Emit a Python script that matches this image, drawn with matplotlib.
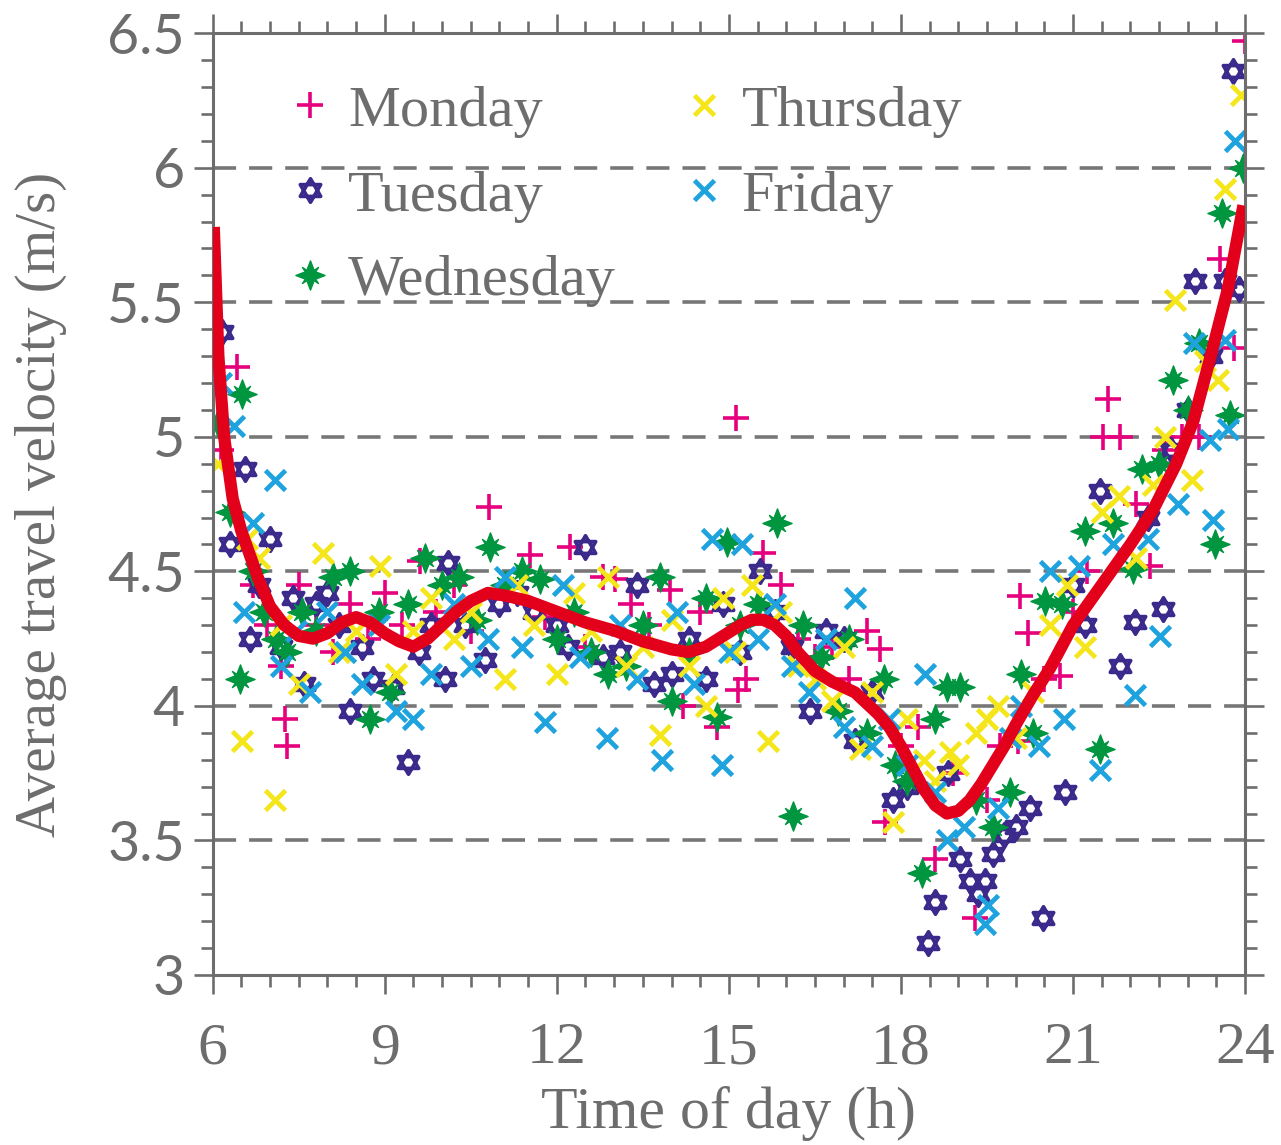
import matplotlib
matplotlib.use("Agg")
import matplotlib.pyplot as plt
from matplotlib.path import Path
from matplotlib.ticker import MultipleLocator

# Monday
mon_x = [6.15, 6.42, 6.7, 6.95, 7.2, 7.26, 7.29, 7.5, 7.8, 8.1, 8.4, 8.7, 9.0, 9.3, 9.61, 9.9, 10.2, 10.5, 10.81,
         11.1, 11.53, 11.8, 12.23, 12.5, 12.8, 13.01, 13.3, 13.6, 13.97, 14.2, 14.5, 14.8, 15.12, 15.16, 15.3, 15.6,
         15.9, 16.2, 16.5, 16.8, 17.1, 17.4, 17.63, 17.72, 18.0, 18.3, 18.6, 18.9, 19.29, 19.5, 19.73, 20.04, 20.08,
         20.22, 20.5, 20.77, 21.0, 21.25, 21.52, 21.61, 21.82, 22.1, 22.34, 22.6, 22.9, 23.2, 23.56, 23.8, 23.98, 24.0]
mon_y = [4.95, 5.26, 4.45, 4.3, 4.15, 3.95, 3.85, 4.45, 4.3, 4.2, 4.38, 4.25, 4.42, 4.3, 4.54, 4.35, 4.45, 4.28, 4.74,
         4.4, 4.56, 4.33, 4.59, 4.22, 4.48, 4.47, 4.38, 4.3, 4.43, 4.0, 4.35, 3.92, 5.07, 4.06, 4.1, 4.57,
         4.45, 4.25, 4.18, 4.22, 4.1, 4.28, 4.21, 3.57, 3.85, 3.92, 3.43, 3.75, 3.21, 3.65, 3.85, 3.87, 4.41,
         4.27, 4.1, 4.11, 4.35, 4.5, 5.0, 5.14, 5.0, 4.75, 4.52, 4.95, 5.0, 5.0, 5.66, 5.33, 6.0, 6.47]

# Tuesday
tue_x = [6.16, 6.3, 6.56, 6.65, 6.8, 7.0, 7.2, 7.4, 7.6, 7.8, 8.0, 8.2, 8.39, 8.6, 8.8, 9.14, 9.4, 9.6, 9.8, 10.05,
         10.1, 10.4, 10.75, 11.0, 11.3, 11.6, 12.0, 12.2, 12.49, 12.8, 13.1, 13.4, 13.7, 14.0, 14.3, 14.6, 14.9, 15.2,
         15.54, 15.8, 16.1, 16.41, 16.7, 17.0, 17.2, 17.5, 17.86, 18.1, 18.47, 18.6, 18.82, 19.03, 19.2, 19.35, 19.47,
         19.6, 19.8, 20.0, 20.25, 20.48, 20.86, 21.0, 21.2, 21.47, 21.82, 22.08, 22.3, 22.57, 22.7, 23.0, 23.13, 23.4,
         23.65, 23.79, 23.9]
tue_y = [5.39, 4.6, 4.88, 4.25, 4.45, 4.62, 4.22, 4.4, 4.08, 4.38, 4.42, 4.3, 3.98, 4.22, 4.1, 4.07, 3.79, 4.2, 4.3, 4.1,
         4.53, 4.3, 4.17, 4.38, 4.42, 4.35, 4.3, 4.22, 4.59, 4.18, 4.2, 4.45, 4.08, 4.12, 4.25, 4.1, 4.38, 4.2,
         4.5, 4.35, 4.22, 3.98, 4.28, 4.25, 3.87, 4.05, 3.65, 3.7, 3.12, 3.27, 3.75, 3.43, 3.35, 3.3, 3.35,
         3.45, 3.52, 3.55, 3.62, 3.21, 3.68, 4.45, 4.3, 4.8, 4.15, 4.31, 4.7, 4.36, 4.95, 5.1, 5.58, 5.3,
         5.58, 6.36, 5.55]

# Wednesday
wed_x = [6.1, 6.3, 6.47, 6.52, 6.7, 6.9, 7.1, 7.3, 7.55, 7.8, 8.1, 8.4, 8.74, 8.9, 9.1, 9.4, 9.7, 10.0, 10.3, 10.6,
         10.83, 11.1, 11.4, 11.7, 12.0, 12.3, 12.6, 12.9, 13.2, 13.5, 13.8, 14.0, 14.3, 14.6, 14.8, 14.97, 15.2, 15.5,
         15.84, 16.12, 16.3, 16.6, 16.9, 17.1, 17.4, 17.7, 17.9, 18.1, 18.37, 18.6, 18.8, 19.03, 19.3, 19.6, 19.9,
         20.1, 20.3, 20.51, 20.8, 21.2, 21.47, 21.7, 22.05, 22.2, 22.5, 22.74, 23.0, 23.2, 23.48, 23.6, 23.74, 23.97]
wed_y = [5.05, 4.72, 4.1, 5.16, 4.5, 4.35, 4.25, 4.2, 4.35, 4.28, 4.48, 4.5, 3.95, 4.35, 4.05, 4.38, 4.55, 4.45, 4.48, 4.32,
         4.59, 4.45, 4.5, 4.47, 4.25, 4.35, 4.2, 4.12, 4.15, 4.3, 4.48, 4.02, 4.2, 4.4, 3.96, 4.61, 4.3, 4.38,
         4.68, 3.59, 4.3, 4.18, 3.98, 4.25, 3.9, 4.1, 3.78, 3.72, 3.38, 3.95, 4.07, 4.07, 3.65, 3.55, 3.68,
         4.12, 3.9, 4.39, 4.38, 4.65, 3.84, 4.68, 4.51, 4.88, 4.9, 5.21, 5.1, 5.35, 4.6, 5.83, 5.08, 6.0]

# Thursday
thu_x = [6.1, 6.52, 6.6, 6.8, 7.08, 7.2, 7.5, 7.92, 8.2, 8.5, 8.91, 9.2, 9.5, 9.8, 10.2, 10.5, 11.09, 11.3, 11.6, 12.0,
         12.3, 12.6, 12.9, 13.2, 13.5, 13.8, 14.0, 14.3, 14.6, 14.9, 15.1, 15.4, 15.68, 15.9, 16.2, 16.5, 16.8, 17.0,
         17.29, 17.5, 17.86, 18.1, 18.4, 18.6, 18.86, 19.0, 19.3, 19.5, 19.7, 20.0, 20.3, 20.6, 20.9, 21.2, 21.5,
         21.8, 22.1, 22.4, 22.6, 22.78, 23.07, 23.3, 23.53, 23.65, 23.92]
thu_y = [4.9, 3.87, 4.62, 4.55, 3.65, 4.3, 4.08, 4.57, 4.2, 4.28, 4.52, 4.12, 4.28, 4.4, 4.25, 4.35, 4.1, 4.45, 4.3, 4.12,
         4.42, 4.28, 4.48, 4.15, 4.22, 3.89, 4.32, 4.15, 4.0, 4.4, 4.2, 4.45, 3.87, 4.35, 4.15, 4.1, 4.02, 4.22,
         3.84, 4.05, 3.57, 3.95, 3.8, 3.72, 3.83, 3.78, 3.9, 3.95, 4.0, 3.88, 4.05, 4.3, 4.45, 4.22, 4.72,
         4.78, 4.55, 4.82, 5.0, 5.51, 4.84, 5.28, 5.21, 5.92, 6.27]

# Friday
fri_x = [6.15, 6.38, 6.55, 6.7, 7.08, 7.2, 7.45, 7.7, 8.0, 8.3, 8.6, 8.9, 9.2, 9.5, 9.8, 10.2, 10.5, 10.8, 11.1, 11.4,
         11.79, 12.1, 12.4, 12.87, 13.1, 13.4, 13.83, 14.1, 14.4, 14.71, 14.88, 15.0, 15.23, 15.5, 15.8, 16.1, 16.4,
         16.7, 17.0, 17.2, 17.5, 17.8, 18.1, 18.42, 18.6, 18.8, 19.1, 19.47, 19.52, 19.7, 19.9, 20.1, 20.4, 20.6,
         20.85, 21.1, 21.47, 21.7, 22.08, 22.3, 22.52, 22.83, 23.1, 23.39, 23.44, 23.65, 23.7, 23.83]
fri_y = [5.2, 5.04, 4.35, 4.68, 4.84, 4.15, 4.28, 4.05, 4.35, 4.2, 4.08, 4.3, 3.98, 3.95, 4.12, 4.38, 4.15, 4.25, 4.48, 4.22,
         3.94, 4.45, 4.18, 3.88, 4.3, 4.1, 3.8, 4.35, 4.08, 4.62, 3.78, 4.2, 4.6, 4.25, 4.38, 4.15, 4.05,
         4.25, 3.92, 4.4, 3.85, 3.95, 3.78, 4.12, 3.68, 3.5, 3.55, 3.19, 3.26, 3.62, 3.88, 4.0, 3.85, 4.5,
         3.95, 4.52, 3.76, 4.6, 4.04, 4.62, 4.26, 4.75, 5.35, 4.99, 4.69, 5.36, 5.03, 6.1]

# fitted curve
fit_x = [6.02, 6.1, 6.2, 6.35, 6.5, 6.65, 6.8, 7.0, 7.25, 7.5, 7.75, 8.0, 8.25, 8.5, 8.75, 9.0, 9.25, 9.5, 9.75,
         10.0, 10.25, 10.5, 10.8, 11.1, 11.5, 12.0, 12.5, 13.0, 13.5, 14.0, 14.3, 14.6, 14.9, 15.2, 15.4, 15.6,
         15.8, 16.0, 16.2, 16.5, 16.8, 17.0, 17.2, 17.4, 17.6, 17.8, 18.0, 18.2, 18.4, 18.6, 18.8, 19.0, 19.2,
         19.4, 19.6, 19.8, 20.0, 20.3, 20.6, 21.0, 21.5, 22.0, 22.4, 22.8, 23.1, 23.4, 23.7, 23.97]
fit_y = [5.78, 5.3, 5.0, 4.77, 4.65, 4.56, 4.47, 4.37, 4.3, 4.26, 4.25, 4.27, 4.31, 4.33, 4.31, 4.27, 4.24, 4.22, 4.25,
         4.3, 4.35, 4.39, 4.42, 4.41, 4.39, 4.35, 4.31, 4.28, 4.24, 4.21, 4.2, 4.22, 4.26, 4.3, 4.32, 4.32,
         4.3, 4.26, 4.2, 4.13, 4.09, 4.07, 4.05, 4.01, 3.97, 3.92, 3.85, 3.77, 3.69, 3.63, 3.6, 3.61, 3.65,
         3.71, 3.78, 3.85, 3.93, 4.04, 4.14, 4.3, 4.45, 4.6, 4.73, 4.9, 5.06, 5.3, 5.55, 5.86]

x_ticks = [6, 9, 12, 15, 18, 21, 24]
x_tick_labels = ["6", "9", "12", "15", "18", "21", "24"]
y_ticks = [3, 3.5, 4, 4.5, 5, 5.5, 6, 6.5]
y_tick_labels = ["3", "3.5", "4", "4.5", "5", "5.5", "6", "6.5"]

grey = "#6d6d6d"
serif = ["Liberation Serif", "DejaVu Serif"]

# star of David marker (two triangles)
s3 = 0.866
hexagram = Path([(0, 1), (-s3, -0.5), (s3, -0.5), (0, 1),
                 (0, -1), (-s3, 0.5), (s3, 0.5), (0, -1)],
                [Path.MOVETO, Path.LINETO, Path.LINETO, Path.CLOSEPOLY,
                 Path.MOVETO, Path.LINETO, Path.LINETO, Path.CLOSEPOLY])

# green 8 pointed star, fat arms
star_verts = [(0, 1), (0.25, 0.35), (0.55, 0.55), (0.35, 0.25), (1, 0), (0.35, -0.25), (0.55, -0.55), (0.25, -0.35),
              (0, -1), (-0.25, -0.35), (-0.55, -0.55), (-0.35, -0.25), (-1, 0), (-0.35, 0.25), (-0.55, 0.55),
              (-0.25, 0.35), (0, 1)]
green_star = Path(star_verts, [Path.MOVETO] + [Path.LINETO] * 15 + [Path.CLOSEPOLY])

fig = plt.figure(figsize=(12.81, 11.45), dpi=100)
ax = fig.add_axes([0.166, 0.1485, 0.806, 0.8225])

ax.plot(mon_x, mon_y, ls="none", marker="+", ms=19, mew=2.6, color="#e6007e", label="Monday")
ax.plot(tue_x, tue_y, ls="none", marker=hexagram, ms=17, mew=2.6, mfc="none", color="#3b2a8c", label="Tuesday")
ax.plot(wed_x, wed_y, ls="none", marker=green_star, ms=21, mew=1.0, color="#00953f", label="Wednesday")
ax.plot(thu_x, thu_y, ls="none", marker="x", ms=14.5, mew=3.4, color="#f4e61a", label="Thursday")
ax.plot(fri_x, fri_y, ls="none", marker="x", ms=14.5, mew=3.4, color="#1fa3df", label="Friday")
ax.plot(fit_x, fit_y, color="#e3001b", lw=8.8, solid_capstyle="butt", zorder=5)

ax.set_xlim(6, 24)
ax.set_ylim(3, 6.5)
ax.set_xticks(x_ticks)
ax.set_xticklabels(x_tick_labels, fontfamily=serif)
ax.set_yticks(y_ticks)
ax.set_yticklabels(y_tick_labels, fontfamily=["Lato", "DejaVu Sans"])
ax.xaxis.set_minor_locator(MultipleLocator(0.5))
ax.yaxis.set_minor_locator(MultipleLocator(0.1))

for yv in y_ticks[1:-1]:
    ax.axhline(yv, color="#777777", lw=2.6, ls=(0, (6.4, 3.6)), zorder=0)

for sp in ax.spines.values():
    sp.set_color(grey)
    sp.set_linewidth(2.2)

ax.tick_params(which="both", direction="out", top=True, right=True, color=grey, width=1.9)
ax.tick_params(which="major", length=14)
ax.tick_params(which="minor", length=8.5)
ax.tick_params(axis="x", which="major", labelsize=43, pad=20, labelcolor=grey)
ax.tick_params(axis="y", which="major", labelsize=40, pad=6, labelcolor=grey)

ax.set_xlabel("Time of day (h)", fontsize=43, color=grey, fontfamily=serif)
ax.set_ylabel("Average travel velocity (m/s)", fontsize=41, color=grey, fontfamily=serif,
              va="center", ha="center")
ax.xaxis.set_label_coords(0.5, -0.118)
ax.yaxis.set_label_coords(-0.166, 0.5)

leg = ax.legend(ncol=2, loc="upper left", bbox_to_anchor=(0.055, 0.97), frameon=False,
                prop={"family": serif, "size": 42}, handlelength=0.6, handletextpad=0.35,
                columnspacing=1.2, labelspacing=0.55, borderaxespad=0)
for t in leg.get_texts():
    t.set_color(grey)

fig.savefig("out.png", dpi=100)
